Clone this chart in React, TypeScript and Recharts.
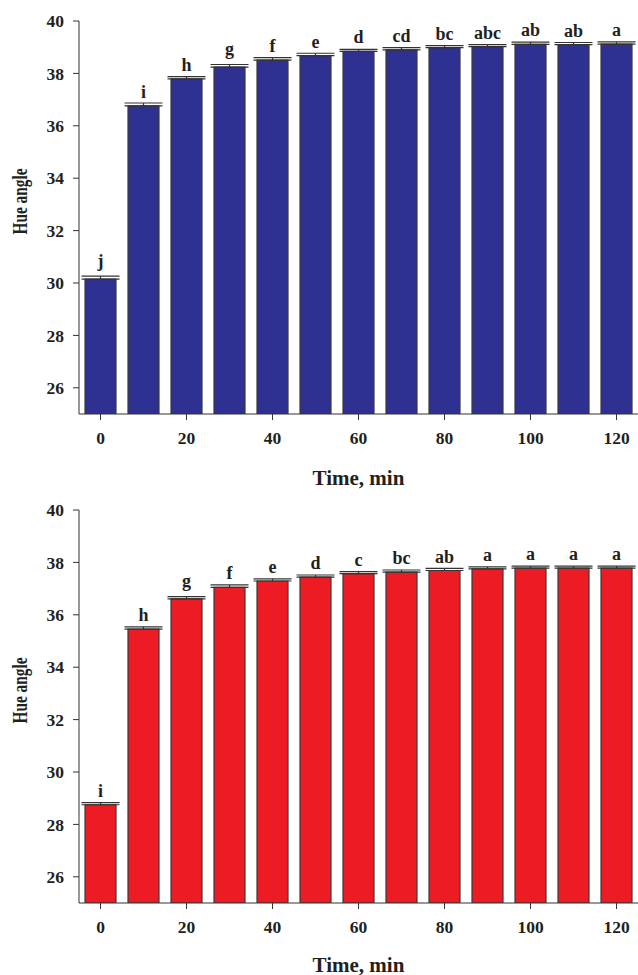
import React from 'react';
import { BarChart, Bar, XAxis, YAxis, ErrorBar, LabelList } from 'recharts';

const times = [0, 10, 20, 30, 40, 50, 60, 70, 80, 90, 100, 110, 120];
const blueValues = [30.15, 36.76, 37.79, 38.24, 38.51, 38.68, 38.84, 38.9, 38.98, 39.02, 39.11, 39.1, 39.12];
const blueErrors = [0.11, 0.11, 0.09, 0.1, 0.09, 0.09, 0.08, 0.08, 0.08, 0.08, 0.08, 0.08, 0.08];
const blueLetters = ['j', 'i', 'h', 'g', 'f', 'e', 'd', 'cd', 'bc', 'abc', 'ab', 'ab', 'a'];
const redValues = [28.75, 35.45, 36.61, 37.05, 37.29, 37.44, 37.57, 37.63, 37.69, 37.75, 37.78, 37.78, 37.78];
const redErrors = [0.08, 0.09, 0.08, 0.09, 0.08, 0.08, 0.08, 0.08, 0.08, 0.08, 0.08, 0.08, 0.08];
const redLetters = ['i', 'h', 'g', 'f', 'e', 'd', 'c', 'bc', 'ab', 'a', 'a', 'a', 'a'];
const yTicks = [26, 28, 30, 32, 34, 36, 38, 40];
const xLabel = 'Time, min';
const yLabel = 'Hue angle';

const FONT = "'Liberation Serif', 'Times New Roman', serif";
const AXIS = '#333333';
const TEXT = '#231f20';

type Props = { values: number[]; errors: number[]; letters: string[]; color: string; xLabelDy: number };

function LetterLabel(p: any) {
  const { x, y, width, value } = p;
  const s = String(value);
  const desc = /[gjpqy]/.test(s) ? 4 : 0;
  return (
    <text
      x={x + width / 2}
      y={y - 8 - desc}
      textAnchor="middle"
      fontFamily={FONT}
      fontWeight="bold"
      fontSize={18}
      fill={TEXT}
    >
      {s}
    </text>
  );
}

function HueChart({ values, errors, letters, color, xLabelDy }: Props) {
  const data = times.map((t, i) => ({
    t,
    v: values[i],
    err: [0, errors[i]],
    lbl: letters[i],
  }));
  const tickStyle = { fontFamily: FONT, fontWeight: 'bold', fontSize: 17.5, fill: TEXT };
  return (
    <BarChart
      width={638}
      height={489}
      data={data}
      margin={{ top: 21, right: 0, bottom: 0, left: 0 }}
      barSize={31}
    >
      <XAxis
        dataKey="t"
        type="category"
        interval={1}
        tickSize={6}
        tickMargin={12}
        height={75}
        stroke={AXIS}
        tick={tickStyle}
        label={{
          content: (p: any) => {
            const vb = p.viewBox || {};
            return (
              <text
                x={vb.x + vb.width / 2}
                y={vb.y + xLabelDy}
                textAnchor="middle"
                fontFamily={FONT}
                fontWeight="bold"
                fontSize={21}
                fill={TEXT}
              >
                {xLabel}
              </text>
            );
          },
        }}
      />
      <YAxis
        type="number"
        domain={[25, 40]}
        ticks={yTicks}
        width={79}
        tickSize={6}
        tickMargin={9}
        stroke={AXIS}
        tick={tickStyle}
        allowDataOverflow
        label={{
          content: (p: any) => {
            const vb = p.viewBox || {};
            const cx = 20;
            const cy = vb.y + vb.height / 2 - 16;
            return (
              <text
                x={cx}
                y={cy}
                transform={`rotate(-90, ${cx}, ${cy})`}
                textAnchor="middle"
                dominantBaseline="central"
                fontFamily={FONT}
                fontWeight="bold"
                fontSize={21}
                textLength={66}
                lengthAdjust="spacingAndGlyphs"
                fill={TEXT}
              >
                {yLabel}
              </text>
            );
          },
        }}
      />
      <Bar dataKey="v" fill={color} stroke="#3a3a3a" strokeWidth={1.2} isAnimationActive={false}>
        <ErrorBar dataKey="err" width={19} stroke="#333333" strokeWidth={1.2} direction="y" />
        <LabelList dataKey="lbl" content={<LetterLabel />} />
      </Bar>
    </BarChart>
  );
}

export default function App() {
  return (
    <div style={{ position: 'absolute', left: 0, top: 0, width: 638, background: '#fff' }}>
      <HueChart values={blueValues} errors={blueErrors} letters={blueLetters} color="#2e3192" xLabelDy={71} />
      <HueChart values={redValues} errors={redErrors} letters={redLetters} color="#ed1c24" xLabelDy={68.5} />
    </div>
  );
}
